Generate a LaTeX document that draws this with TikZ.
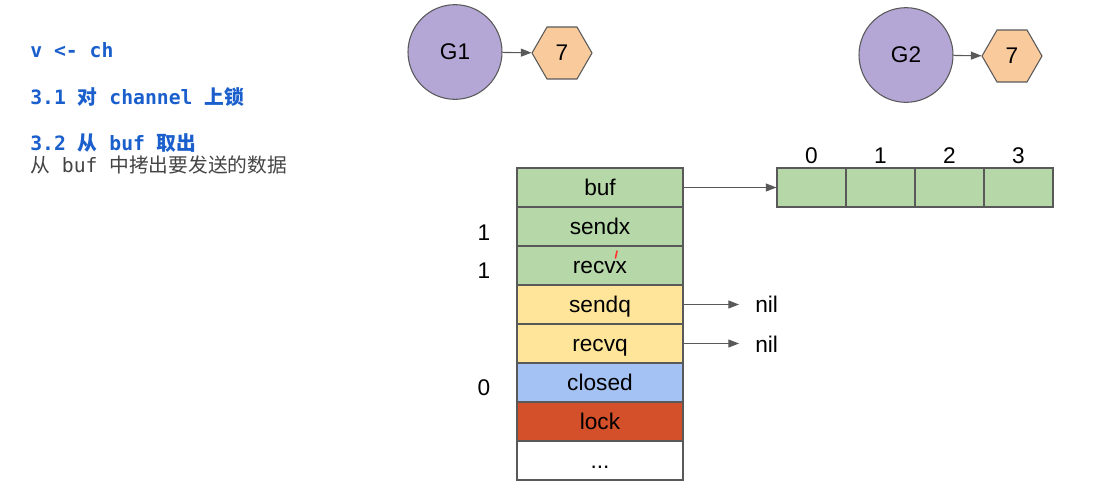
\documentclass[tikz,border=0pt]{standalone}
\usepackage{fontspec}
\setmainfont{Liberation Sans}
\newfontfamily\cjk{Noto Sans CJK SC}
\newfontfamily\monofam{DejaVu Sans Mono}
\usetikzlibrary{shapes.geometric,arrows.meta}
\definecolor{fgreen}{HTML}{B6D7A8}
\definecolor{fyellow}{HTML}{FFE599}
\definecolor{fblue}{HTML}{A4C2F4}
\definecolor{fred}{HTML}{D4502B}
\definecolor{gpurple}{HTML}{B4A7D6}
\definecolor{horange}{HTML}{F9CB9C}
\definecolor{edge}{HTML}{595959}
\definecolor{codeblue}{HTML}{1A5FCC}
\definecolor{textgray}{HTML}{444444}
\begin{document}
\begin{tikzpicture}[x=0.75pt,y=-0.75pt,
  lbl/.style={font=\fontsize{17}{20}\selectfont, text=black},
  field/.style={draw=edge, line width=0.8pt, minimum width=124.5pt, minimum height=29.25pt, inner sep=0pt, text height=12.2pt, text depth=0pt, lbl},
  cell/.style={draw=edge, line width=0.8pt, fill=fgreen, minimum width=51.75pt, minimum height=29.25pt, inner sep=0pt},
  gnode/.style={ellipse, draw=edge, line width=0.8pt, fill=gpurple, minimum width=70.5pt, minimum height=71pt, inner sep=0pt, lbl},
  hnode/.style={regular polygon, regular polygon sides=6, draw=edge, line width=0.8pt, fill=horange, minimum size=45pt, inner sep=0pt, lbl},
  conn/.style={draw=edge, line width=0.8pt, -{Triangle[length=8pt,width=6pt]}},
  code/.style={anchor=west, inner sep=0pt, text=codeblue, font=\fontsize{14.8}{17}\selectfont\monofam\bfseries},
  plain/.style={anchor=west, inner sep=0pt, text=textgray, font=\fontsize{14.8}{17}\selectfont\monofam}
]
\useasboundingbox (0,0) rectangle (1103,494);
% left text
\node[code] (t1) at (30,50) {v <- ch};
\node[code] (t2) at (30,97) {3.1 {\cjk\bfseries 对} channel {\cjk\bfseries 上锁}};
\node[code] (t3) at (30,143) {3.2 {\cjk\bfseries 从} buf {\cjk\bfseries 取出}};
\node[plain] (t4) at (30,165) {{\cjk 从} buf {\cjk 中拷出要发送的数据}};
% goroutines
\node[gnode] (g1) at (455,52) {G1};
\node[hnode] (h1) at (562,53) {7};
\draw[conn] (g1) -- (h1);
\node[gnode] (g2) at (906,55) {G2};
\node[hnode] (h2) at (1012,56) {7};
\draw[conn] (g2) -- (h2);
% struct
\node[field, fill=fgreen] (buf) at (600,187.5) {buf};
\node[field, fill=fgreen] (sendx) at (600,226.5) {sendx};
\node[field, fill=fgreen] (recvx) at (600,265.5) {recvx};
\node[field, fill=fyellow] (sendq) at (600,304.5) {sendq};
\node[field, fill=fyellow] (recvq) at (600,343.5) {recvq};
\node[field, fill=fblue] (closed) at (600,382.5) {closed};
\node[field, fill=fred] (lock) at (600,421.5) {lock};
\node[field, fill=white] (more) at (600,460.5) {...};
\draw[red!80!white, line width=1.2pt, line cap=round] (617,251) -- (615.5,258);
% left values
\node[lbl] (v1) at (484,233) {1};
\node[lbl] (v2) at (484,271) {1};
\node[lbl] (v3) at (484,388) {0};
% buffer array
\node[cell] (c0) at (811.5,187.5) {};
\node[cell] (c1) at (880.5,187.5) {};
\node[cell] (c2) at (949.5,187.5) {};
\node[cell] (c3) at (1018.5,187.5) {};
\node[lbl] (i0) at (811.5,156) {0};
\node[lbl] (i1) at (880.5,156) {1};
\node[lbl] (i2) at (949.5,156) {2};
\node[lbl] (i3) at (1018.5,156) {3};
\draw[conn] (buf) -- (c0);
% nil
\node[lbl, anchor=west, inner sep=0pt] (n1) at (755,304) {nil};
\node[lbl, anchor=west, inner sep=0pt] (n2) at (755,344) {nil};
\draw[conn, shorten >=12pt] (sendq.east) -- (n1.west |- sendq.east);
\draw[conn, shorten >=12pt] (recvq.east) -- (n2.west |- recvq.east);
\end{tikzpicture}
\end{document}
